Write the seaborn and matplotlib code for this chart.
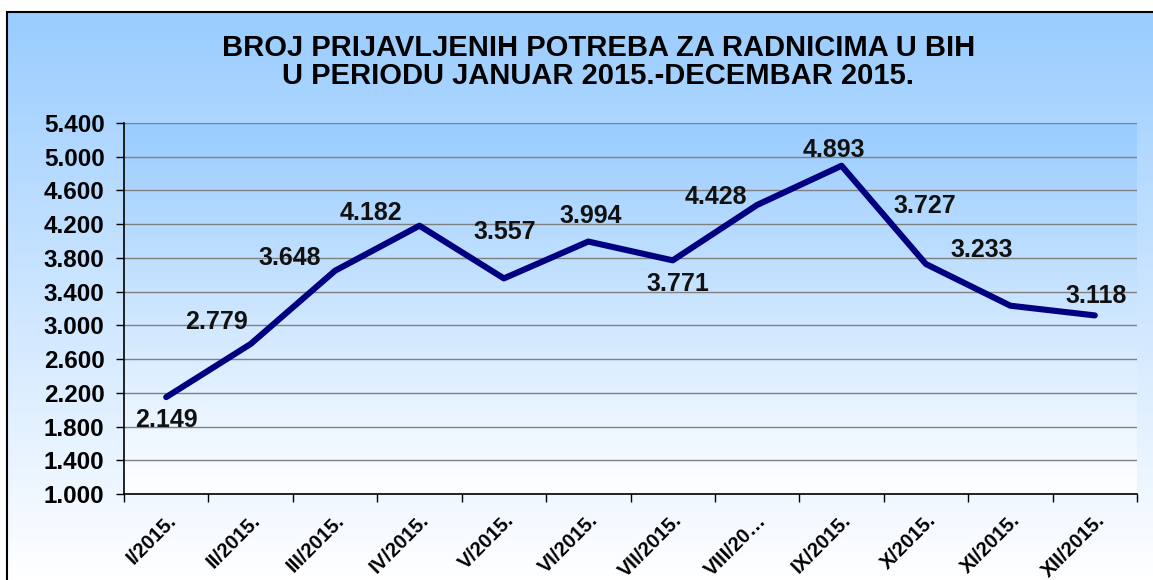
import numpy as np
import pandas as pd
import matplotlib
matplotlib.use("Agg")
import matplotlib.pyplot as plt
import seaborn as sns
from matplotlib.colors import LinearSegmentedColormap
from matplotlib.patches import Rectangle

# podaci
months = ["I/2015.", "II/2015.", "III/2015.", "IV/2015.", "V/2015.", "VI/2015.",
          "VII/2015.", "VIII/20…", "IX/2015.", "X/2015.", "XI/2015.", "XII/2015."]
values = [2149, 2779, 3648, 4182, 3557, 3994, 3771, 4428, 4893, 3727, 3233, 3118]
yticks = [1000, 1400, 1800, 2200, 2600, 3000, 3400, 3800, 4200, 4600, 5000, 5400]

# pomaci oznaka (pikseli)
label_offsets = [(0, -23), (-34, 22), (-45, 13), (-49, 13), (1, 46), (2, 26),
                 (5, -24), (-41, 8), (-8, 16), (-1, 58), (-29, 56), (1, 19)]

sns.set_theme(style="white")
plt.rcParams['font.family'] = ['Liberation Sans', 'DejaVu Sans']
plt.rcParams['text.color'] = 'black'
plt.rcParams['xtick.color'] = 'black'
plt.rcParams['ytick.color'] = 'black'

df = pd.DataFrame({"mjesec": months, "broj": values})
df["x"] = range(len(df))

fig = plt.figure(figsize=(11.53, 5.80), dpi=100)
fig.patch.set_facecolor("white")

# gradijent pozadine
grad = LinearSegmentedColormap.from_list("g", ["#99CCFF", "#FFFFFF"])
bg = fig.add_axes([7 / 1153, 0, 1 - 7 / 1153, 1 - 12 / 580], zorder=-2)
bg.imshow(np.linspace(0, 1, 256).reshape(-1, 1), cmap=grad, aspect="auto",
          extent=[0, 1, 0, 1])
bg.set_axis_off()
fig.patches.append(Rectangle((7 / 1153, -0.01), 1.2, 1 - 12 / 580 + 0.01,
                             transform=fig.transFigure, fill=False,
                             edgecolor="black", linewidth=1.5, zorder=5))

ax = fig.add_axes([124 / 1153, 1 - 494 / 580, (1137 - 124) / 1153, (494 - 123) / 580])
ax.set_facecolor("none")
ax.imshow(np.linspace(0, 1, 256).reshape(-1, 1), cmap=grad, aspect="auto",
          extent=[0, 1, 0, 1], transform=ax.transAxes, zorder=0)

sns.lineplot(data=df, x="x", y="broj", ax=ax, color="#000080", linewidth=4.4,
             zorder=3, solid_capstyle="round")

for i, (v, off) in enumerate(zip(values, label_offsets)):
    ax.annotate(f"{v:,}".replace(",", "."), (i, v), xytext=off,
                textcoords="offset pixels", ha="center", va="center",
                fontsize=18, fontweight="bold", color="#111111", zorder=4)

ax.set_xlim(-0.5, len(months) - 0.5)
ax.set_ylim(1000, 5400)
ax.set_yticks(yticks)
ax.set_yticklabels([f"{t:,}".replace(",", ".") for t in yticks],
                   fontsize=17.5, fontweight="bold")
ax.set_xticks(range(len(months)))
ax.set_xticklabels(months, rotation=45, ha="right", rotation_mode="anchor",
                   fontsize=14.5, fontweight="bold")
ax.set_xticks(np.arange(-0.5, len(months), 1), minor=True)
ax.tick_params(axis="x", which="major", length=0, pad=12)
ax.tick_params(axis="x", which="minor", length=6, width=1, color="black", bottom=True)
ax.tick_params(axis="y", length=6, width=1, color="black", left=True, pad=8)
ax.grid(axis="y", color="#808080", linewidth=1, zorder=1)
ax.set_axisbelow(True)
ax.set_xlabel("")
ax.set_ylabel("")
for s in ["top", "right"]:
    ax.spines[s].set_visible(False)
for s in ["left", "bottom"]:
    ax.spines[s].set_color("black")
    ax.spines[s].set_linewidth(1.2)

fig.text(0.519, 1 - 48 / 580, "BROJ PRIJAVLJENIH POTREBA ZA RADNICIMA U BIH",
         ha="center", va="center", fontsize=21, fontweight="bold")
fig.text(0.519, 1 - 76 / 580, "U PERIODU JANUAR 2015.-DECEMBAR 2015.",
         ha="center", va="center", fontsize=21, fontweight="bold")

fig.savefig("out.png", dpi=100)
